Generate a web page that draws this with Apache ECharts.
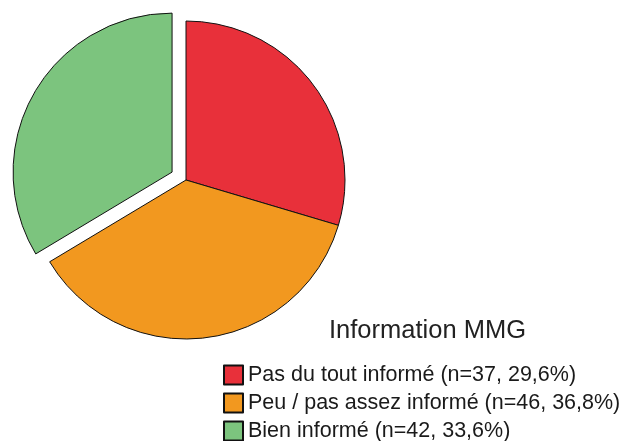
<!DOCTYPE html>
<html>
<head>
<meta charset="utf-8">
<script src="https://cdn.jsdelivr.net/npm/echarts@6/dist/echarts.min.js"></script>
<style>
  html, body { margin: 0; padding: 0; background: #fff; }
  #chart { width: 632px; height: 441px; }
</style>
</head>
<body>
<div id="chart"></div>
<script>
// categories and counts (n)
var categories = ['Pas du tout informé', 'Peu / pas assez informé', 'Bien informé']
var counts = [37, 46, 42]
var percents = ['29,6', '36,8', '33,6']
var colors = ['#e8303a', '#f2981f', '#7cc47e']
var titleText = 'Information MMG'

var chart = echarts.init(document.getElementById('chart'))

var pieData = categories.map(function (name, i) {
  return {
    name: name,
    value: counts[i],
    selected: i === 2, // green slice pulled out
    itemStyle: { color: colors[i] }
  }
})

chart.setOption({
  animation: false,
  title: {
    text: titleText,
    left: 329,
    top: 318,
    padding: 0,
    textStyle: {
      fontFamily: 'Liberation Sans',
      fontSize: 25.5,
      fontWeight: 'normal',
      color: '#222'
    }
  },
  legend: {
    orient: 'vertical',
    left: 223,
    top: 364,
    padding: 0,
    height: 80,
    itemWidth: 19,
    itemHeight: 19,
    itemGap: 6,
    icon: 'rect',
    data: categories,
    formatter: function (name) {
      var i = categories.indexOf(name)
      return name + ' (n=' + counts[i] + ', ' + percents[i] + '%)'
    },
    textStyle: {
      fontFamily: 'Liberation Sans',
      fontSize: 21.5,
      lineHeight: 20,
      color: '#1a1a1a'
    }
  },
  series: [
    {
      type: 'pie',
      center: [186, 180],
      radius: [0, 159],
      startAngle: 90,
      clockwise: true,
      selectedMode: 'single',
      selectedOffset: 16,
      label: { show: false },
      labelLine: { show: false },
      itemStyle: {
        borderColor: '#111',
        borderWidth: 1
      },
      emphasis: { disabled: true },
      data: pieData
    }
  ]
})
</script>
</body>
</html>
